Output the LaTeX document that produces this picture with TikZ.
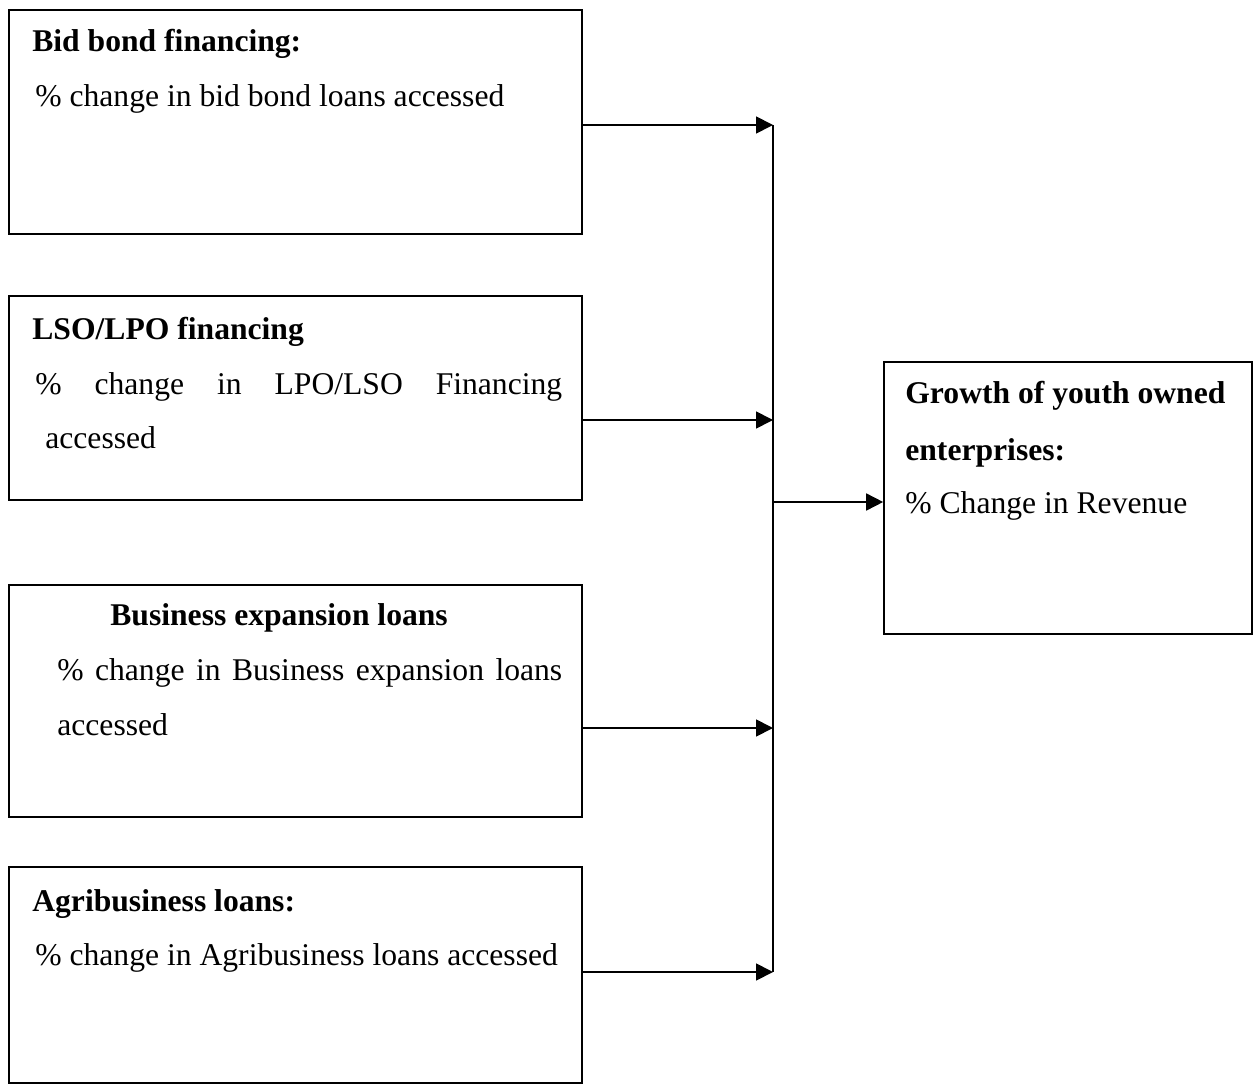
\documentclass[tikz,border=0pt]{standalone}
\usepackage{fontspec}
\setmainfont{Liberation Serif}
\usepackage{tikz}
\usetikzlibrary{arrows.meta,positioning}

\begin{document}
\begin{tikzpicture}[
    x=0.02cm, y=-0.02cm,
    box/.style={draw, line width=1pt, minimum width=11.46cm, inner sep=0pt},
    txt/.style={anchor=base west, inner sep=0pt, font=\fontsize{18}{22}\selectfont},
    head/.style={txt, font=\fontsize{18}{22}\selectfont\bfseries},
    arrow/.style={-{Triangle[length=0.34cm,width=0.34cm]}, line width=1pt}
]
\useasboundingbox (0,0) rectangle (1253,1084);

% Boxes
\node[box, minimum height=4.48cm] (bid) at (295.5,122) {};
\node[box, minimum height=4.08cm] (lpo) at (295.5,398) {};
\node[box, minimum height=4.64cm] (exp) at (295.5,701) {};
\node[box, minimum height=4.32cm] (agri) at (295.5,975) {};
\node[box, minimum width=7.36cm, minimum height=5.44cm] (growth) at (1068,498) {};

% Texts
\node[head] (bidhead) at (32,52) {Bid bond financing:};
\node[txt] (bidtxt) at (35,107) {\% change in bid bond loans accessed};

\node[head] (lpohead) at (32,339) {LSO/LPO financing};
\node[txt] (lpotxt) at (35,394) {\makebox[10.54cm][s]{\% change in LPO/LSO Financing}};
\node[txt] (lpotxtb) at (45,448) {accessed};

\node[head] (exphead) at (110,625) {Business expansion loans};
\node[txt] (exptxt) at (57,680) {\makebox[10.1cm][s]{\% change in Business expansion loans}};
\node[txt] (exptxtb) at (57,735) {accessed};

\node[head] (agrihead) at (32,911) {Agribusiness loans:};
\node[txt] (agritxt) at (35,965) {\% change in Agribusiness loans accessed};

\node[head] (growhead) at (905,403) {Growth of youth owned};
\node[head] (growheadb) at (905,460) {enterprises:};
\node[txt] (growtxt) at (905,513) {\% Change in Revenue};

% Collector line
\coordinate (bus1) at (773,125);
\coordinate (bus2) at (773,420);
\coordinate (bus3) at (773,728);
\coordinate (bus4) at (773,972);
\coordinate (busout) at (773,502);
\draw[line width=1pt] (bus1) -- (bus4);

% Arrows
\draw[arrow] (bus1 -| bid.east) -- (bus1);
\draw[arrow] (bus2 -| lpo.east) -- (bus2);
\draw[arrow] (bus3 -| exp.east) -- (bus3);
\draw[arrow] (bus4 -| agri.east) -- (bus4);
\draw[arrow] (busout) -- (busout -| growth.west);
\end{tikzpicture}
\end{document}
